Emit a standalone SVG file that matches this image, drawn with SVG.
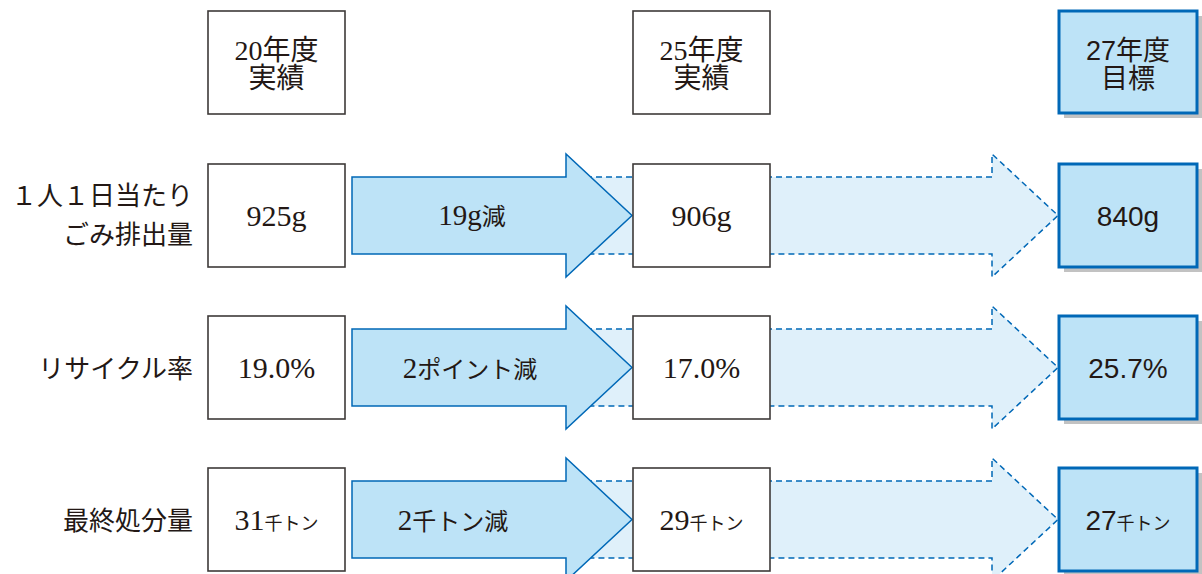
<svg xmlns="http://www.w3.org/2000/svg" width="1202" height="574" viewBox="0 0 1202 574">
<defs>
<style>
.bg{fill:#ffffff}
.box{fill:#ffffff;stroke:#3e3a39;stroke-width:1.6}
.tgt{fill:#bde3f7;stroke:#0068b7;stroke-width:3}
.shadow{fill:#c2c2c2}
.arr{fill:#bde3f7;stroke:#0068b7;stroke-width:1.5;stroke-linejoin:miter}
.darr{fill:#dff0fa;stroke:#0068b7;stroke-width:1.5;stroke-dasharray:6 4}
.serif{font-family:"Liberation Serif","Noto Sans CJK JP",serif;fill:#231815}
.sans{font-family:"Liberation Sans","Noto Sans CJK JP",sans-serif;fill:#231815}
.m{text-anchor:middle}
.e{text-anchor:end}
.sm{font-size:18px}
.cj{font-size:24px}
</style>
</defs>
<rect class="bg" x="0" y="0" width="1202" height="574"/>

<g id="connectors">
  <polygon class="darr" points="566,177 992,177 992,154 1058,215.5 992,277 992,254 566,254"/>
  <polygon class="darr" points="566,329 992,329 992,306 1058,367.5 992,429 992,406 566,406"/>
  <polygon class="darr" points="566,481 992,481 992,458 1058,519.5 992,581 992,558 566,558"/>
  <polygon class="arr" points="352,177 566,177 566,154 632,215.5 566,277 566,254 352,254"/>
  <polygon class="arr" points="352,329 566,329 566,306 632,367.5 566,429 566,406 352,406"/>
  <polygon class="arr" points="352,481 566,481 566,458 632,519.5 566,581 566,558 352,558"/>
  <text class="serif m" x="472" y="225" font-size="29">19g<tspan class="cj">減</tspan></text>
  <text class="serif m" x="470" y="378" font-size="29">2<tspan class="cj">ポイント減</tspan></text>
  <text class="serif m" x="453" y="530" font-size="29">2<tspan class="cj">千トン減</tspan></text>
</g>

<g id="hdr20">
  <rect class="box" x="208" y="11" width="137" height="103"/>
  <text class="serif m" x="276.5" y="60" font-size="28">20年度</text>
  <text class="serif m" x="276.5" y="88" font-size="28">実績</text>
</g>
<g id="hdr25">
  <rect class="box" x="633" y="11" width="137" height="103"/>
  <text class="serif m" x="701.5" y="60" font-size="28">25年度</text>
  <text class="serif m" x="701.5" y="88" font-size="28">実績</text>
</g>
<g id="hdr27">
  <rect class="shadow" x="1064" y="16" width="138" height="102"/>
  <rect class="tgt" x="1059" y="11" width="138" height="102"/>
  <text class="sans m" x="1128" y="60" font-size="27">27年度</text>
  <text class="sans m" x="1128" y="88" font-size="27">目標</text>
</g>

<g id="label1">
  <text class="serif e" x="193" y="205" font-size="26">１人１日当たり</text>
  <text class="serif e" x="193" y="244" font-size="26">ごみ排出量</text>
</g>
<g id="label2">
  <text class="serif e" x="193" y="378" font-size="26">リサイクル率</text>
</g>
<g id="label3">
  <text class="serif e" x="193" y="530" font-size="26">最終処分量</text>
</g>

<g id="r1c1">
  <rect class="box" x="208" y="164" width="137" height="103"/>
  <text class="serif m" x="276.5" y="226" font-size="30">925g</text>
</g>
<g id="r1c2">
  <rect class="box" x="633" y="164" width="137" height="103"/>
  <text class="serif m" x="701.5" y="226" font-size="30">906g</text>
</g>
<g id="r1c3">
  <rect class="shadow" x="1064" y="169" width="138" height="103"/>
  <rect class="tgt" x="1059" y="164" width="138" height="103"/>
  <text class="sans m" x="1128" y="226" font-size="28">840g</text>
</g>

<g id="r2c1">
  <rect class="box" x="208" y="316" width="137" height="103"/>
  <text class="serif m" x="276.5" y="378" font-size="30">19.0%</text>
</g>
<g id="r2c2">
  <rect class="box" x="633" y="316" width="137" height="103"/>
  <text class="serif m" x="701.5" y="378" font-size="30">17.0%</text>
</g>
<g id="r2c3">
  <rect class="shadow" x="1064" y="321" width="138" height="103"/>
  <rect class="tgt" x="1059" y="316" width="138" height="103"/>
  <text class="sans m" x="1128" y="378" font-size="28">25.7%</text>
</g>

<g id="r3c1">
  <rect class="box" x="208" y="468" width="137" height="103"/>
  <text class="serif m" x="276.5" y="530" font-size="30">31<tspan class="sm">千トン</tspan></text>
</g>
<g id="r3c2">
  <rect class="box" x="633" y="468" width="137" height="103"/>
  <text class="serif m" x="701.5" y="530" font-size="30">29<tspan class="sm">千トン</tspan></text>
</g>
<g id="r3c3">
  <rect class="shadow" x="1064" y="473" width="138" height="103"/>
  <rect class="tgt" x="1059" y="468" width="138" height="103"/>
  <text class="sans m" x="1128" y="530" font-size="28">27<tspan class="sm">千トン</tspan></text>
</g>
</svg>
